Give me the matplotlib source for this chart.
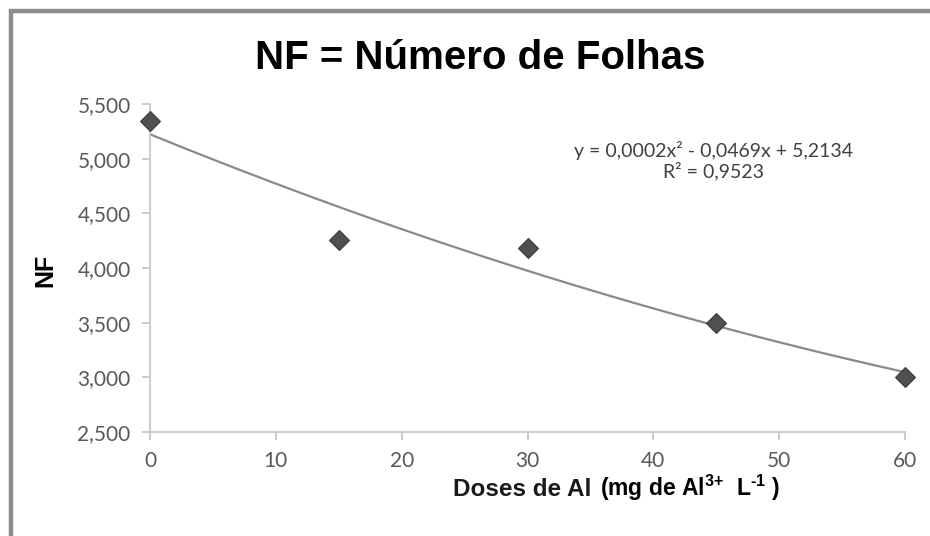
import numpy as np
import matplotlib
matplotlib.use("Agg")
import matplotlib.pyplot as plt
from matplotlib.patches import Rectangle
from matplotlib.ticker import FuncFormatter

plt.rcParams['mathtext.fontset'] = 'custom'
plt.rcParams['mathtext.rm'] = 'Liberation Sans:bold'
plt.rcParams['mathtext.bf'] = 'Liberation Sans:bold'
plt.rcParams['mathtext.it'] = 'Liberation Sans:bold'

# Data
doses = [0, 15, 30, 45, 60]
nf = [5.34, 4.256, 4.183, 3.497, 3.00]
y_ticks = [2.5, 3.0, 3.5, 4.0, 4.5, 5.0, 5.5]
x_ticks = [0, 10, 20, 30, 40, 50, 60]
title = "NF = Número de Folhas"
equation = "y = 0,0002x² - 0,0469x + 5,2134"
r2_text = "R² = 0,9523"

fig = plt.figure(figsize=(9.3, 5.36), dpi=100)
fig.patch.set_facecolor("white")
ax = fig.add_axes([150/930, 1-432/536, (905-150)/930, (432-104)/536])

# trendline (2nd order polynomial fit)
coef = np.polyfit(doses, nf, 2)
xs = np.linspace(min(doses), max(doses), 200)
ax.plot(xs, np.polyval(coef, xs), color="#8a8a8a", lw=1.6, zorder=2)
ax.plot(doses, nf, linestyle="none", marker="D", markersize=10.5,
        markerfacecolor="#505050", markeredgecolor="#3c3c3c", markeredgewidth=0.8,
        zorder=3, clip_on=False)

ax.set_xlim(0, 60)
ax.set_ylim(2.5, 5.5)
ax.set_xticks(x_ticks)
ax.set_yticks(y_ticks)
ax.yaxis.set_major_formatter(FuncFormatter(lambda v, p: f"{v:.3f}".replace(".", ",")))
for s in ["top", "right"]:
    ax.spines[s].set_visible(False)
for s in ["left", "bottom"]:
    ax.spines[s].set_color("#c8c8c8")
    ax.spines[s].set_linewidth(1.3)
ax.tick_params(axis="both", direction="out", length=6, width=1.3, color="#c8c8c8",
               labelcolor="#595959", labelsize=15)
ax.tick_params(axis="y", pad=8)
ax.tick_params(axis="x", pad=8)
for lab in ax.get_xticklabels() + ax.get_yticklabels():
    lab.set_family("Lato")

fig.text(480/930, 1-58/536, title, ha="center", va="center", fontsize=29,
         fontweight="bold", family="Liberation Sans", color="black")

fig.text(713/930, 1-151/536, equation, ha="center", va="center", fontsize=14,
         family="Lato", color="#404040")
fig.text(713/930, 1-171/536, r2_text, ha="center", va="center", fontsize=14,
         family="Lato", color="#404040")

fig.text(45/930, 1-270/536, "NF", rotation=90, ha="center", va="center", fontsize=18,
         fontweight="bold", family="Liberation Sans", color="black")

fig.text(453/930, 1-496/536, "Doses de Al", ha="left", va="baseline", fontsize=17.5,
         fontweight="bold", family="Liberation Sans", color="#1a1a1a")
fig.text(600/930, 1-496/536, r"(mg de Al$^{\text{3+}}$  L$^{\text{-1}}$ )", ha="left",
         va="baseline", fontsize=16.5, fontweight="bold", family="Liberation Sans",
         color="black")

fig.patches.append(Rectangle((11/930, -0.1), 1.2, 0.1 + 1 - 11/536, transform=fig.transFigure,
                             fill=False, edgecolor="#8c8c8c", linewidth=3.2, zorder=10))

fig.savefig("out.png", dpi=100)
